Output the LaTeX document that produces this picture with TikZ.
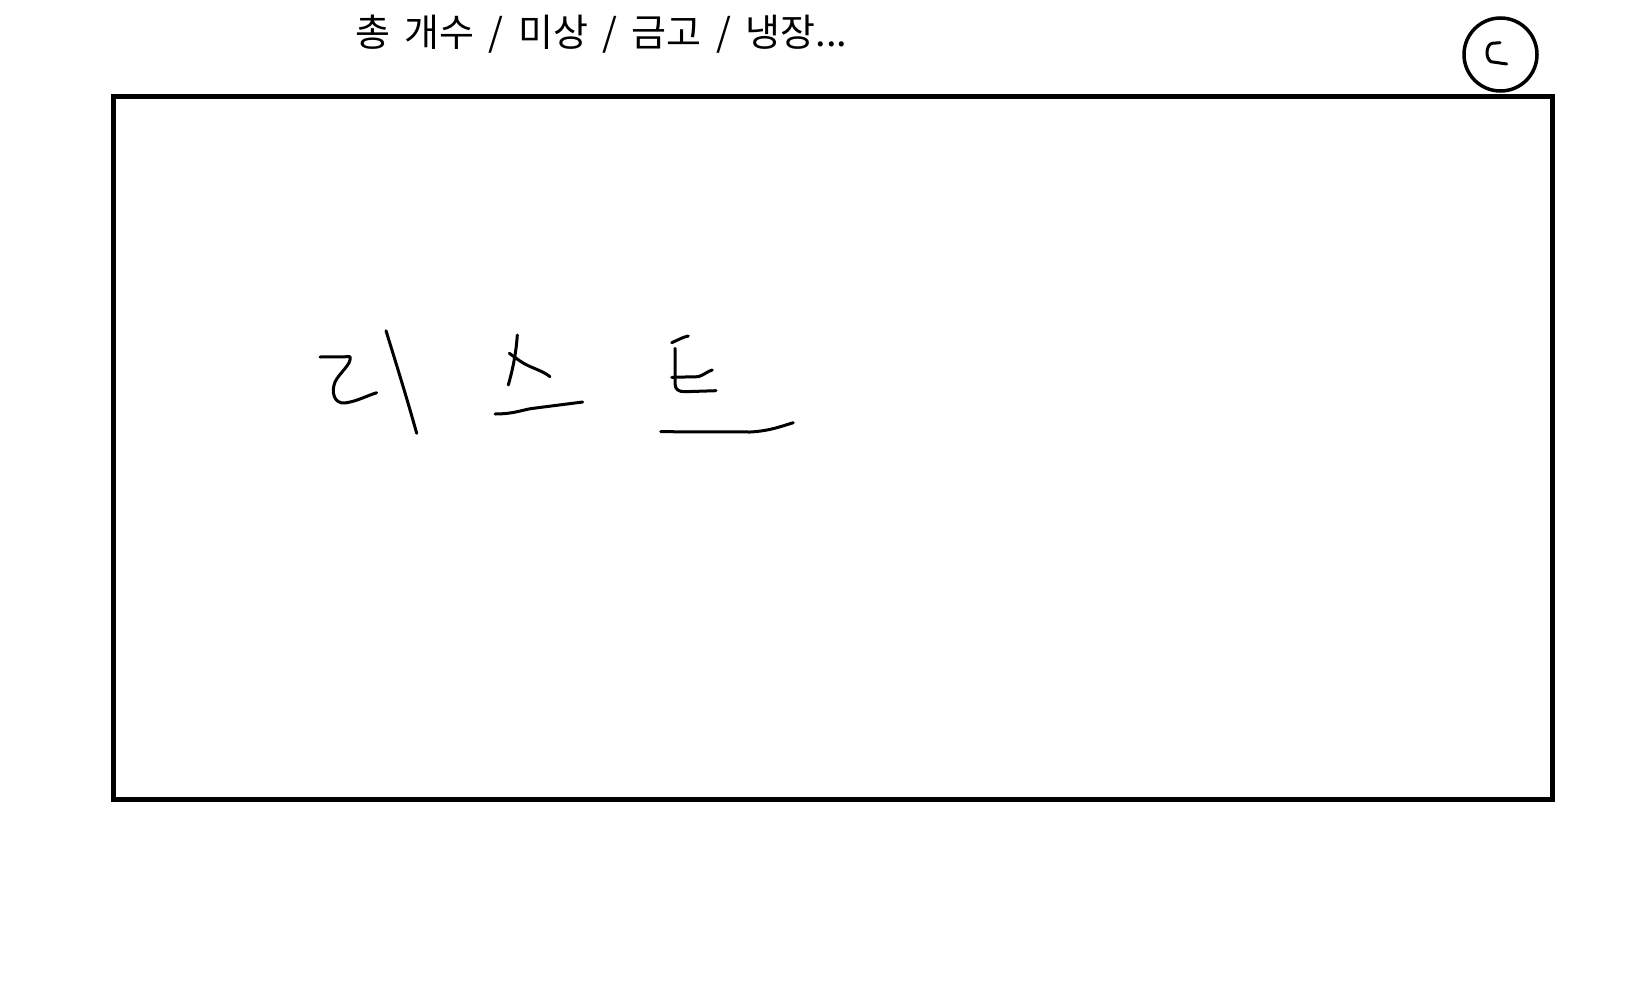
\documentclass[tikz,border=0pt]{standalone}
\usepackage{fontspec}
\newfontfamily\kr{Noto Sans CJK KR}
\begin{document}
\begin{tikzpicture}[x=1pt,y=-1pt,
  frame/.style={draw=black,line width=5pt},
  pen/.style={draw=black,line width=3pt,line cap=round,line join=round},
  ring/.style={draw=black,line width=3.5pt,circle,minimum size=73pt,inner sep=0pt},
  label/.style={inner sep=0pt,anchor=west,font=\kr\fontsize{38}{42}\selectfont}]
\useasboundingbox (0,0) rectangle (1646,993);
\fill[white] (0,0) rectangle (1646,993);
\node[label] (title) at (355,34) {\spaceskip=0.38em\relax 총 개수 / 미상 / 금고 / 냉장...};
\node[ring] (btn) at (1500.5,54.5) {};
\draw[pen] (1500,42.7) -- (1492,43.3) .. controls (1486,45) and (1485,58) .. (1491,61.7) -- (1506.7,64);
\coordinate (tl) at (113.3,96.5);
\coordinate (br) at (1552.5,799.8);
\draw[frame] (tl) rectangle (br);
% hand-drawn "리스트"
\draw[pen] (320,357) -- (350,356.7) .. controls (352,364) and (340,372) .. (335,382) .. controls (331,392) and (334,404) .. (345,403) .. controls (358,401) and (366,396) .. (376.7,392.7);
\draw[pen] (386,330.7) .. controls (395,360) and (406,395) .. (416.7,433.3);
\draw[pen] (517.3,335) .. controls (516,355) and (512,372) .. (508.3,385);
\draw[pen] (509.3,353.3) -- (520,361) .. controls (530,368) and (542,370) .. (550,376.7);
\draw[pen] (495,414) .. controls (515,414) and (525,409) .. (533.3,408.3) -- (582.7,402);
\draw[pen] (671.7,342.7) .. controls (678,340) and (683,337) .. (688.3,336);
\draw[pen] (675,348.3) -- (675,383.3) .. controls (675,390) and (679,391.7) .. (685,391.7) -- (716,390.7);
\draw[pen] (671.7,377.3) -- (698.3,376.7) .. controls (704,375) and (708,371) .. (712.3,370);
\draw[pen] (660.7,431.7) -- (750,432) .. controls (770,431) and (782,426) .. (793.3,422.7);
\end{tikzpicture}
\end{document}
